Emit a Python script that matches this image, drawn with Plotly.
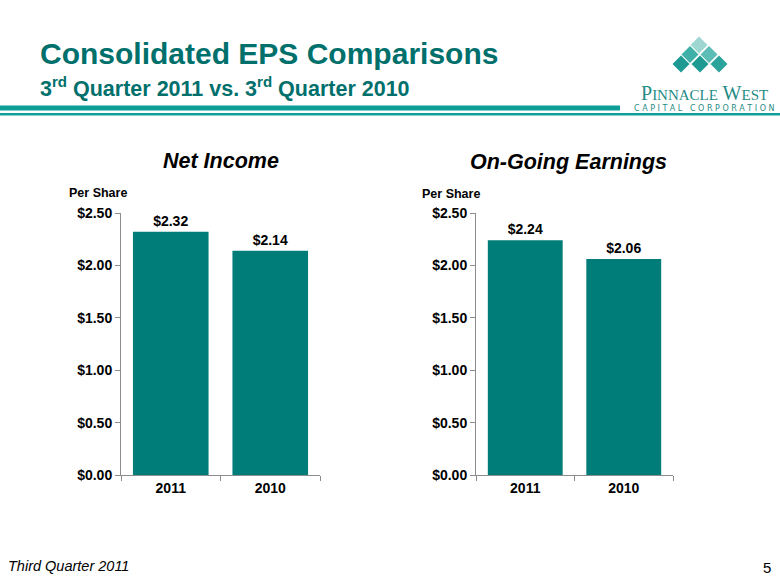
import plotly.graph_objects as go

categories = ["2011", "2010"]
net_income = [2.32, 2.14]
ongoing = [2.24, 2.06]
net_labels = ["$2.32", "$2.14"]
ongoing_labels = ["$2.24", "$2.06"]
y_tickvals = [0, 0.5, 1.0, 1.5, 2.0, 2.5]
y_ticktext = ["$0.00", "$0.50", "$1.00", "$1.50", "$2.00", "$2.50"]

W, H = 780, 585
BAR = "#007D79"
TITLE = "#00706C"
LINE = "#0E9E98"
AXIS = "#8C8C8C"
SANS = "Arial, Liberation Sans"

fig = go.Figure()
for xa, ya, vals, labs in [("x", "y", net_income, net_labels), ("x2", "y2", ongoing, ongoing_labels)]:
    fig.add_trace(go.Bar(x=categories, y=vals, text=labs, textposition="outside",
                         marker=dict(color=BAR, line=dict(width=0)), width=0.76,
                         textfont=dict(family=SANS, size=14, color="black", weight="bold"),
                         cliponaxis=False, xaxis=xa, yaxis=ya, showlegend=False, hoverinfo="skip"))

def px_x(p):
    return p / W

def px_y(p):
    return 1 - p / H

axis_common = dict(showline=True, linecolor=AXIS, linewidth=1, ticks="outside", tickcolor=AXIS,
                   ticklen=5, showgrid=False, zeroline=False, automargin=False,
                   tickfont=dict(family=SANS, size=14, color="black", weight="bold"))

ydom = [px_y(475), px_y(213)]
fig.update_layout(
    width=W, height=H, margin=dict(l=0, r=0, t=0, b=0, pad=0, autoexpand=False),
    paper_bgcolor="white", plot_bgcolor="white",
    font=dict(family=SANS, color="black"),
    xaxis=dict(domain=[px_x(121), px_x(320)], anchor="y", tickson="boundaries", type="category",
               range=[-0.5, 1.5], **axis_common),
    yaxis=dict(domain=ydom, anchor="x", range=[0, 2.5], tickvals=y_tickvals, ticktext=y_ticktext,
               **axis_common),
    xaxis2=dict(domain=[px_x(476), px_x(673)], anchor="y2", tickson="boundaries", type="category",
                range=[-0.5, 1.5], **axis_common),
    yaxis2=dict(domain=ydom, anchor="x2", range=[0, 2.5], tickvals=y_tickvals, ticktext=y_ticktext,
                **axis_common),
)

annotations = []
def ann(text, x, y, size, color="black", xanchor="left", yanchor="middle", family=SANS, weight=None, style=None):
    f = dict(family=family, size=size, color=color)
    if weight:
        f["weight"] = weight
    if style:
        f["style"] = style
    annotations.append(dict(text=text, x=px_x(x), y=px_y(y), xref="paper", yref="paper",
                            showarrow=False, xanchor=xanchor, yanchor=yanchor, font=f))

ann("Consolidated EPS Comparisons", 38, 53, 30, TITLE, weight="bold")
ann("3<sup>rd</sup> Quarter 2011 vs. 3<sup>rd</sup> Quarter 2010", 38, 87, 21.5, TITLE, weight="bold")
ann("Net Income", 221, 161, 21.5, weight="bold", style="italic", xanchor="center")
ann("On-Going Earnings", 568, 162, 21.5, weight="bold", style="italic", xanchor="center")
ann("Per Share", 67, 193, 12.5, weight="bold")
ann("Per Share", 420, 194, 12.5, weight="bold")
ann("Third Quarter 2011", 6, 566, 14.5, style="italic")
ann("5", 773, 567, 15, xanchor="right")
ann('P<span style="font-size:15px">INNACLE</span> W<span style="font-size:15px">EST</span>',
    704, 93, 20, "#1F8C86", xanchor="center", family="Liberation Serif, DejaVu Serif")
ann("C A P I T A L   C O R P O R A T I O N", 704, 108, 8, "#1F8C86", xanchor="center",
    family="DejaVu Sans, Arial")
fig.update_layout(annotations=annotations)

shapes = [
    dict(type="rect", xref="paper", yref="paper", x0=0, x1=px_x(620), y0=px_y(110.5), y1=px_y(105.5),
         fillcolor=LINE, line=dict(width=0)),
    dict(type="rect", xref="paper", yref="paper", x0=0, x1=1, y0=px_y(115.5), y1=px_y(113),
         fillcolor=LINE, line=dict(width=0)),
]
centers = [(699, 45, "#9ED6D1"), (690, 54.5, "#3FB0A8"), (709, 54.5, "#5CBDB6"),
           (681, 64, "#1E9A92"), (700, 64, "#1E9A92"), (719, 64, "#2BA39B")]
r = 8.5
for cx, cy, col in centers:
    path = "M {} {} L {} {} L {} {} L {} {} Z".format(
        px_x(cx), px_y(cy - r), px_x(cx + r), px_y(cy), px_x(cx), px_y(cy + r), px_x(cx - r), px_y(cy))
    shapes.append(dict(type="path", xref="paper", yref="paper", path=path, fillcolor=col, line=dict(width=0)))
fig.update_layout(shapes=shapes)

fig.write_html("out.html", config={"displayModeBar": False},
               post_script="document.body.style.margin='0';")
